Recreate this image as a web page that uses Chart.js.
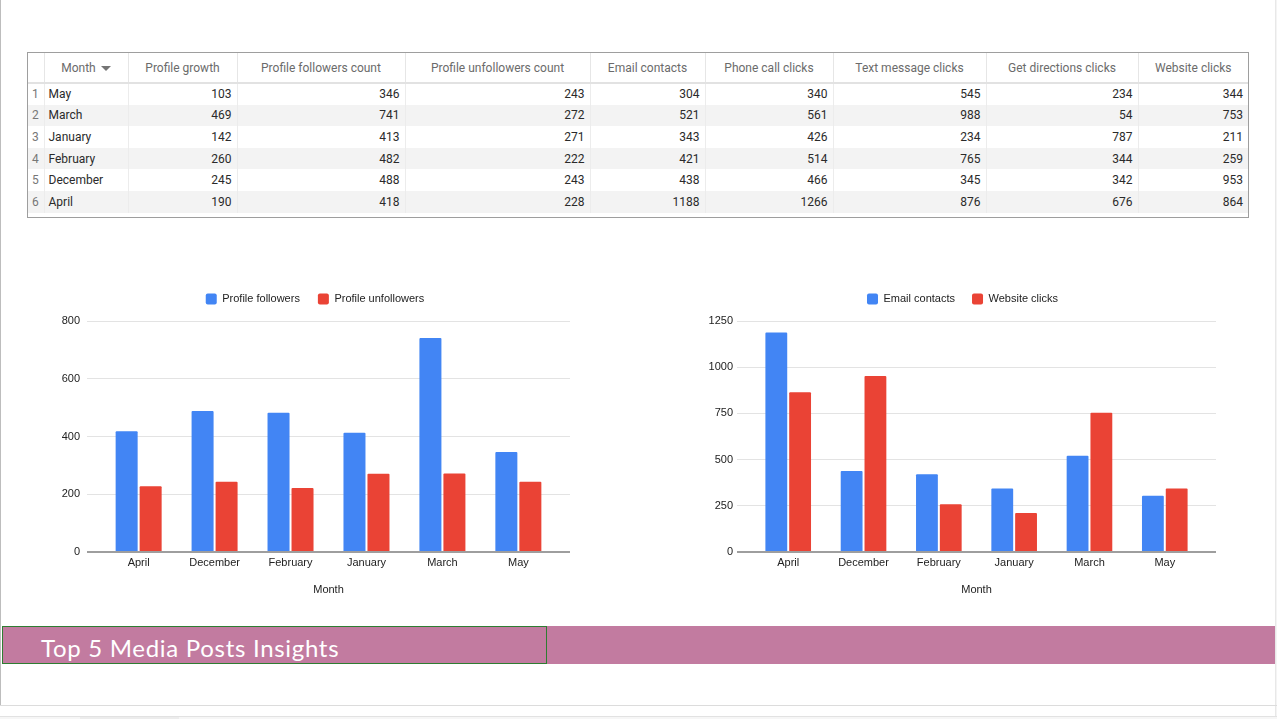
<!DOCTYPE html>
<html>
<head>
<meta charset="utf-8">
<script src="https://cdn.jsdelivr.net/npm/chart.js@4.4.1/dist/chart.umd.min.js"></script>
<style>
  html, body { margin: 0; padding: 0; background: #ffffff; }
  body { width: 1277px; height: 719px; position: relative; overflow: hidden; font-family: Roboto, "Liberation Sans", sans-serif; }
  #leftLine { position: absolute; left: 0; top: 0; width: 1px; height: 706px; background: #bdbdbd; }
  #rightLine { position: absolute; left: 1275px; top: 0; width: 2px; height: 719px; background: #f4f4f4; border-left: 1px solid #e8e8e8; box-sizing: border-box; }
  #bottomLine1 { position: absolute; left: 0; top: 705px; width: 1277px; height: 1px; background: #dcdcdc; }
  #bottomLine2 { position: absolute; left: 0; top: 716px; width: 1277px; height: 1px; background: #e2e2e2; }
  #bottomStrip { position: absolute; left: 0; top: 717px; width: 1277px; height: 2px; background: #f6f6f6; }
  #thumb { position: absolute; left: 80px; top: 717px; width: 99px; height: 2px; background: #ececec; }
  #tableWrap { position: absolute; left: 27px; top: 52px; width: 1222px; height: 166px; border: 1px solid #9e9e9e; box-sizing: border-box; background: #fff; }
  table { border-collapse: collapse; table-layout: fixed; width: 1220px; font-size: 12px; }
  th { height: 29px; font-weight: normal; color: #6b6b6b; text-align: center; border-right: 1px solid #e6e6e6; border-bottom: 2px solid #e2e2e2; padding: 0; white-space: nowrap; overflow: hidden; }
  td { height: 21.6px; color: #2a2a2a; border-right: 1px solid #ececec; padding: 0 5px; white-space: nowrap; overflow: hidden; box-sizing: border-box; }
  td.num { text-align: right; }
  td.rn { color: #777; padding: 0 0 0 4px; }
  td.mo { padding-left: 4px; }
  tr.alt td { background: #f3f3f3; }
  th:last-child, td:last-child { border-right: none; }
  .arrow { display: inline-block; width: 0; height: 0; border-left: 5px solid transparent; border-right: 5px solid transparent; border-top: 5px solid #757575; margin-left: 5px; vertical-align: middle; }
  #banner { position: absolute; left: 2px; top: 626px; width: 1273px; height: 38px; background: #c27ba0; }
  #bannerBox { position: absolute; left: 2px; top: 626px; width: 545px; height: 38px; border: 1px solid #2e7d32; box-sizing: border-box; }
  #bannerText { position: absolute; left: 41px; top: 632px; font-family: Lato, "Open Sans", sans-serif; font-size: 24px; letter-spacing: 0.7px; color: #ffffff; line-height: 32px; white-space: nowrap; }
  canvas { position: absolute; }
  #c1 { left: 40px; top: 270px; }
  #c2 { left: 680px; top: 270px; }
</style>
</head>
<body>
<div id="leftLine"></div>
<div id="rightLine"></div>
<div id="bottomLine1"></div>
<div id="bottomLine2"></div>
<div id="bottomStrip"></div>
<div id="thumb"></div>

<div id="tableWrap"><table id="tbl"></table></div>

<canvas id="c1" width="560" height="330"></canvas>
<canvas id="c2" width="560" height="330"></canvas>

<div id="banner"></div>
<div id="bannerBox"></div>
<div id="bannerText">Top 5 Media Posts Insights</div>

<script>
// ---- Table data ----
const tableMonths = ["May", "March", "January", "February", "December", "April"];
const profileGrowth = [103, 469, 142, 260, 245, 190];
const profileFollowers = [346, 741, 413, 482, 488, 418];
const profileUnfollowers = [243, 272, 271, 222, 243, 228];
const emailContacts = [304, 521, 343, 421, 438, 1188];
const phoneCallClicks = [340, 561, 426, 514, 466, 1266];
const textMessageClicks = [545, 988, 234, 765, 345, 876];
const getDirectionsClicks = [234, 54, 787, 344, 342, 676];
const websiteClicks = [344, 753, 211, 259, 953, 864];

const tableHeaders = ["Month", "Profile growth", "Profile followers count", "Profile unfollowers count",
  "Email contacts", "Phone call clicks", "Text message clicks", "Get directions clicks", "Website clicks"];

// ---- Chart categories and tick labels ----
const chartMonths = ["April", "December", "February", "January", "March", "May"];
const leftTicks = [0, 200, 400, 600, 800];
const rightTicks = [0, 250, 500, 750, 1000, 1250];

// ---- Build table ----
const colWidths = [16, 84, 109, 168, 185, 115, 128, 153, 152, 110];
const tbl = document.getElementById('tbl');
let html = '<colgroup>' + colWidths.map(w => '<col style="width:' + w + 'px">').join('') + '</colgroup>';
html += '<tr><th></th>' + tableHeaders.map((h, i) => '<th>' + h + (i === 0 ? '<span class="arrow"></span>' : '') + '</th>').join('') + '</tr>';
const cols = [profileGrowth, profileFollowers, profileUnfollowers, emailContacts, phoneCallClicks,
  textMessageClicks, getDirectionsClicks, websiteClicks];
tableMonths.forEach((m, r) => {
  html += '<tr' + (r % 2 === 1 ? ' class="alt"' : '') + '><td class="rn">' + (r + 1) + '</td><td class="mo">' + m + '</td>' +
    cols.map(c => '<td class="num">' + c[r] + '</td>').join('') + '</tr>';
});
tbl.innerHTML = html;

// ---- Chart helpers ----
function pick(arr) { return chartMonths.map(m => arr[tableMonths.indexOf(m)]); }
function pts(vals) { return vals.map((v, i) => ({ x: i, y: v })); }

const BLUE = '#4285f4', RED = '#ea4335';
const FONT = { family: '"Liberation Sans", Arial, sans-serif', size: 11 };

const legendExtra = {
  id: 'legendExtra',
  beforeLayout(chart) {
    const lg = chart.legend;
    if (lg && !lg._patched) {
      const f = lg.fit.bind(lg);
      lg.fit = function () { f(); this.height += chart.options.plugins.legendExtra.extra; };
      lg._patched = true;
    }
  }
};

function makeChart(id, s1, s2, n1, n2, ticks, cfg) {
  const maxV = ticks[ticks.length - 1];
  const step = ticks[1] - ticks[0];
  const padTop = 5.5 + (18 - cfg.lpad);
  return new Chart(document.getElementById(id), {
    type: 'bar',
    data: {
      datasets: [
        { label: n1, data: pts(s1), backgroundColor: BLUE, borderWidth: 0, borderRadius: 1,
          categoryPercentage: 0.632, barPercentage: 0.917 },
        { label: n2, data: pts(s2), backgroundColor: RED, borderWidth: 0, borderRadius: 1,
          categoryPercentage: 0.632, barPercentage: 0.917 }
      ]
    },
    plugins: [legendExtra],
    options: {
      responsive: false,
      animation: false,
      devicePixelRatio: 1,
      layout: { padding: { left: cfg.pl, right: cfg.pr, top: padTop, bottom: 3.4 } },
      plugins: {
        legendExtra: { extra: 6.5 },
        tooltip: { enabled: false },
        legend: {
          position: 'top',
          labels: {
            boxWidth: 11, boxHeight: 11, padding: cfg.lpad, color: '#222',
            font: FONT, useBorderRadius: true, borderRadius: 2
          }
        }
      },
      scales: {
        x: {
          type: 'linear', min: -0.68, max: 5.68, bounds: 'data', offset: false,
          grid: { display: false, drawTicks: false },
          border: { display: false },
          afterBuildTicks: (scale) => { scale.ticks = chartMonths.map((_, i) => ({ value: i })); },
          afterFit: (scale) => { scale.height = 44.6; },
          ticks: {
            autoSkip: false, maxRotation: 0, padding: 4, color: '#222', font: FONT,
            callback: (v) => chartMonths[v]
          },
          title: { display: true, text: 'Month', color: '#222', font: FONT, padding: 0 }
        },
        y: {
          min: 0, max: maxV,
          afterFit: (scale) => { scale.width = cfg.yw; },
          afterBuildTicks: (scale) => { scale.ticks = ticks.map(v => ({ value: v })); },
          border: { display: false },
          grid: {
            drawTicks: false,
            color: (ctx) => ctx.tick && ctx.tick.value === 0 ? '#9e9e9e' : '#e3e3e3',
            lineWidth: (ctx) => ctx.tick && ctx.tick.value === 0 ? 2 : 1
          },
          ticks: { stepSize: step, padding: cfg.ypad, color: '#222', font: FONT,
            callback: (v) => String(v) }
        }
      }
    }
  });
}

makeChart('c1', pick(profileFollowers), pick(profileUnfollowers), 'Profile followers', 'Profile unfollowers',
  leftTicks, { pl: 20, pr: 30, yw: 27, ypad: 7, lpad: 18 });
makeChart('c2', pick(emailContacts), pick(websiteClicks), 'Email contacts', 'Website clicks',
  rightTicks, { pl: 29, pr: 24, yw: 28, ypad: 4, lpad: 17 });
</script>
</body>
</html>
